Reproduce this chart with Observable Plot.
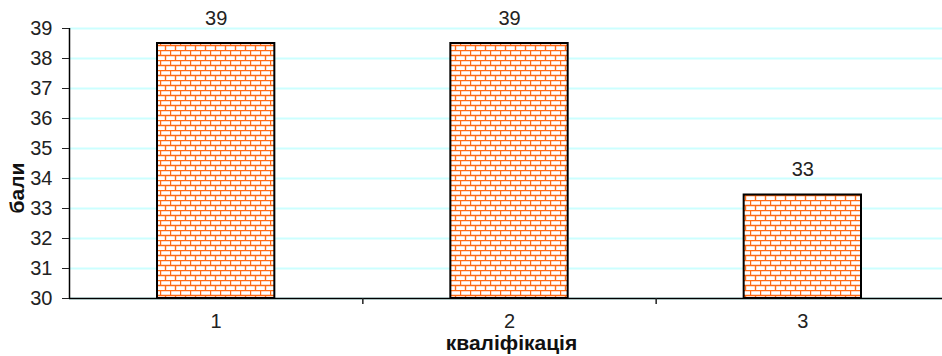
<!DOCTYPE html>
<html>
<head>
<meta charset="utf-8">
<script src="https://cdn.jsdelivr.net/npm/d3@7"></script>
<script src="https://cdn.jsdelivr.net/npm/@observablehq/plot@0.6"></script>
<style>
  html, body { margin: 0; padding: 0; background: #fff; overflow: hidden; }
  #chart svg { display: block; }
</style>
</head>
<body>
<div id="chart"></div>
<script>
// ---- data ----
const categories = [1, 2, 3];
const values = [38.5, 38.5, 33.45];
const valueLabels = ["39", "39", "33"];
const yTicks = [30, 31, 32, 33, 34, 35, 36, 37, 38, 39];
const yMin = 30;
const yMax = 39;
const xLabel = "кваліфікація";
const yLabel = "бали";

const data = categories.map((c, i) => ({cat: c, value: values[i], label: valueLabels[i], base: yMin}));
const boundaries = categories.slice(0, -1).map(c => c + 0.5);
const barHalf = 0.2;

const defs = () => {
  const d = d3.create("svg:defs");
  const p = d.append("pattern")
    .attr("id", "brick")
    .attr("patternUnits", "userSpaceOnUse")
    .attr("width", 10).attr("height", 10);
  p.append("rect").attr("width", 10).attr("height", 10).attr("fill", "#fff");
  const o = "#ff6a13";
  p.append("path")
    .attr("d", "M0,0.5H10M0,5.5H10M0.5,0.5V5.5M5.5,5.5V10.5")
    .attr("stroke", o).attr("stroke-width", 1.4).attr("fill", "none");
  return d.node();
};

const chart = Plot.plot({
  width: 942,
  height: 356,
  marginLeft: 69,
  marginRight: -7,
  marginTop: 28,
  marginBottom: 58,
  style: {fontFamily: "'Liberation Sans', Arial, sans-serif", fontSize: "20px", color: "#222", background: "#fff"},
  x: {type: "linear", domain: [categories[0] - 0.5, categories[categories.length - 1] + 0.5]},
  y: {type: "linear", domain: [yMin, yMax]},
  marks: [
    defs,
    Plot.gridY(yTicks, {stroke: "#ccffff", strokeOpacity: 1, strokeWidth: 2}),
    Plot.rectY(data, {
      x1: d => d.cat - barHalf,
      x2: d => d.cat + barHalf,
      y1: "base",
      y2: "value",
      fill: "url(#brick)",
      stroke: "#000",
      strokeWidth: 2
    }),
    Plot.text(data, {x: "cat", y: "value", text: "label", dy: -25, fontSize: 20, fill: "#222"}),
    Plot.ruleY([yMin], {stroke: "#000", strokeWidth: 1.5}),
    Plot.ruleX([categories[0] - 0.5], {stroke: "#000", strokeWidth: 1.5}),
    Plot.axisY(yTicks, {tickSize: 7, tickPadding: 10, label: null, fontSize: 20, tickFormat: d => String(d)}),
    Plot.axisX(categories, {tickSize: 0, tickPadding: 15, label: null, fontSize: 20, tickFormat: d => String(d)}),
    Plot.axisX(boundaries, {tickSize: 6, label: null, tickFormat: () => "", strokeWidth: 1.5}),
    Plot.text([yLabel], {frameAnchor: "left", dx: -52, dy: 50, rotate: -90, fontWeight: "bold", fontSize: 21, fill: "#111"}),
    Plot.text([xLabel], {frameAnchor: "bottom", dx: 2, dy: 51, fontWeight: "bold", fontSize: 21, fill: "#111"})
  ]
});
document.getElementById("chart").append(chart);
</script>
</body>
</html>
